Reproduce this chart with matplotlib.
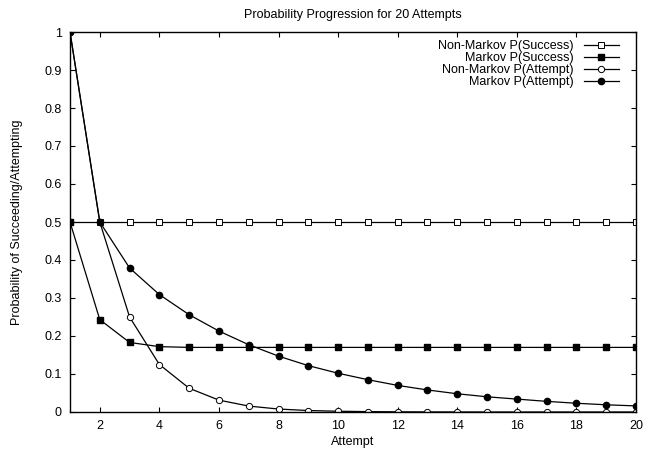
import numpy as np
import matplotlib.pyplot as plt

plt.rcParams['font.family'] = ['Liberation Sans', 'DejaVu Sans']
plt.rcParams['font.size'] = 9

attempts = list(range(1, 21))
nonmarkov_success = [0.5] * 20
markov_success = [0.5, 0.243, 0.183, 0.172, 0.170, 0.170, 0.170, 0.170, 0.170, 0.170,
                  0.170, 0.170, 0.170, 0.170, 0.170, 0.170, 0.170, 0.170, 0.170, 0.170]
nonmarkov_attempt = [1.0, 0.5, 0.25, 0.125, 0.0625, 0.03125, 0.0156, 0.0078, 0.0039, 0.002,
                     0.001, 0.0005, 0.0002, 0.0001, 0.0, 0.0, 0.0, 0.0, 0.0, 0.0]
markov_attempt = [1.0, 0.5, 0.379, 0.309, 0.256, 0.213, 0.177, 0.147, 0.122, 0.102,
                  0.085, 0.070, 0.058, 0.048, 0.040, 0.034, 0.028, 0.023, 0.019, 0.016]

fig = plt.figure(figsize=(6.54, 4.51), dpi=100)
ax = fig.add_axes([70 / 654, 39 / 451, 566 / 654, 380 / 451])

lw = 0.9
ax.plot(attempts, nonmarkov_success, color='black', lw=lw, marker='s', ms=4,
        mfc='white', mec='black', mew=0.7, label='Non-Markov P(Success)')
ax.plot(attempts, markov_success, color='black', lw=lw, marker='s', ms=4.5,
        mfc='black', mec='black', label='Markov P(Success)')
ax.plot(attempts, nonmarkov_attempt, color='black', lw=lw, marker='o', ms=4.5,
        mfc='white', mec='black', mew=0.7, label='Non-Markov P(Attempt)')
ax.plot(attempts, markov_attempt, color='black', lw=lw, marker='o', ms=4.5,
        mfc='black', mec='black', label='Markov P(Attempt)')

ax.set_xlim(1, 20)
ax.set_ylim(0, 1)
ax.set_xticks(range(2, 21, 2))
ax.set_yticks(np.arange(0, 1.01, 0.1))
ax.set_yticklabels(['0', '0.1', '0.2', '0.3', '0.4', '0.5', '0.6', '0.7', '0.8', '0.9', '1'])
ax.tick_params(direction='in', top=True, right=True, length=3.5, width=0.8, pad=6)
for s in ax.spines.values():
    s.set_linewidth(1.0)

ax.set_xlabel('Attempt', labelpad=3)
ax.set_ylabel('Probability of Succeeding/Attempting', labelpad=15)
ax.set_title('Probability Progression for 20 Attempts', fontsize=9, pad=10)

ax.legend(loc='upper right', bbox_to_anchor=(1 - 6 / 566, 1 + 3 / 380), frameon=False,
          markerfirst=False, handlelength=2.8, labelspacing=0.0, borderaxespad=0.5,
          borderpad=0.4, handletextpad=0.8)

fig.savefig('out.png', dpi=100)
